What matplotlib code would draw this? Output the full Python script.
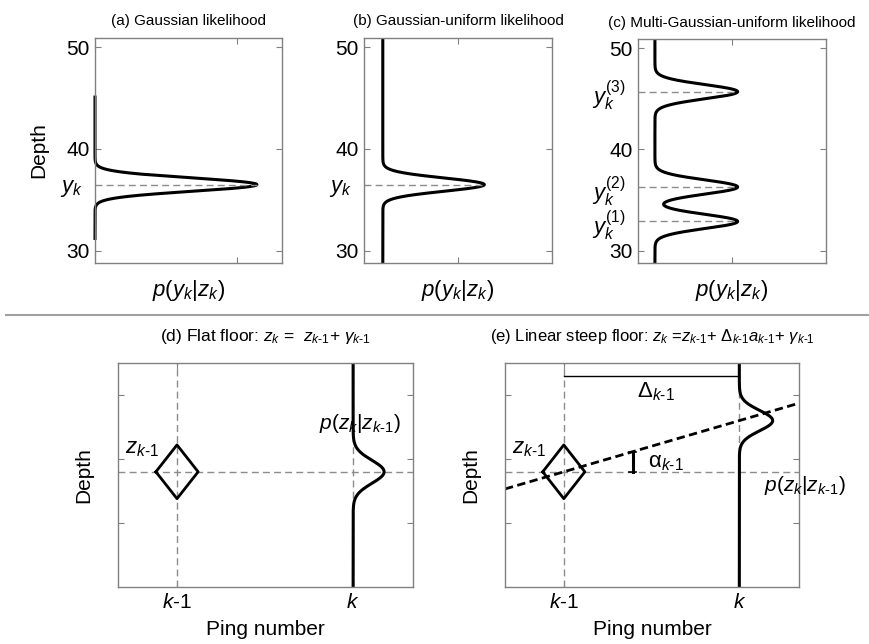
import matplotlib.pyplot as plt
import numpy as np

plt.rcParams['font.family'] = ['Liberation Sans', 'DejaVu Sans']
plt.rcParams['mathtext.fontset'] = 'custom'
plt.rcParams['mathtext.rm'] = 'Liberation Sans'
plt.rcParams['mathtext.it'] = 'Liberation Sans:italic'
plt.rcParams['mathtext.bf'] = 'Liberation Sans:bold'

GRAY = '#808080'
DASH_GRAY = '#8c8c8c'
KM1 = r'k\text{-}1'  # subscript "k-1" with a plain hyphen

# --- likelihood models (top row), depth in m ---
depth_lim = (28.8, 50.9)
depth_ticks = [30, 40, 50]
peak_a = 36.5
extent_a = [31.2, 45.1]
peak_b = 36.5
floor_b = 0.10
height_b = 0.54
peaks_c = [32.9, 36.3, 45.7]
labels_c = ['$y_k^{(1)}$', '$y_k^{(2)}$', '$y_k^{(3)}$']
floor_c = 0.09
height_c = 0.44
sigma_top = 0.65
sigma_c = 0.7

# --- transition models (bottom row) ---
ping_prev = 1.0
ping_cur = 2.0
ping_lim = (0.665, 2.34)
depth2_lim = (0.0, 3.5)
depth2_ticks = [1, 2, 3]
z_prev = 1.8
diamond_dx = 0.12
diamond_dz = 0.42
bump_amp_d = 0.176
bump_sigma_d = 0.18
slope = 0.8
bump_amp_e = 0.19
bump_sigma_e = 0.16
delta_level = 3.3
alpha_ping = 1.394

W, H = 869, 644
fig = plt.figure(figsize=(W / 100, H / 100), dpi=100)


def add_ax(left, top, right, bottom):
    return fig.add_axes([left / W, 1 - bottom / H, (right - left) / W, (bottom - top) / H])


def style(ax):
    for s in ax.spines.values():
        s.set_color(GRAY)
        s.set_linewidth(1.0)
    ax.tick_params(direction='in', length=4, color=GRAY, top=True, right=True,
                   labelsize=15, pad=4)


def gauss(x, mu, sig):
    return np.exp(-0.5 * ((x - mu) / sig) ** 2)


def top_panel(ax, title, xmax, xtick):
    style(ax)
    ax.set_ylim(*depth_lim)
    ax.set_xlim(0, xmax)
    ax.set_yticks(depth_ticks)
    ax.set_xticks([xtick])
    ax.set_xticklabels([])
    ax.set_title(title, fontsize=11, pad=9)
    ax.set_xlabel('$p(y_k|z_k)$', fontsize=16, labelpad=7)
    ax.tick_params(which='minor', length=0, labelsize=16, pad=9)


dz = np.linspace(depth_lim[0], depth_lim[1], 1200)

# (a) Gaussian likelihood
ax = add_ax(95, 38, 282, 263)
top_panel(ax, '(a) Gaussian likelihood', 1.155, 0.875)
za = dz[(dz >= extent_a[0]) & (dz <= extent_a[1])]
ax.plot(gauss(za, peak_a, sigma_top), za, color='black', lw=2.2, clip_on=False)
ax.plot([0, 1.0], [peak_a, peak_a], color=DASH_GRAY, lw=1, ls=(0, (5, 3)))
ax.set_yticks([peak_a], minor=True)
ax.set_yticklabels(['$y_k$'], minor=True)
ax.set_ylabel('Depth', fontsize=15, labelpad=8)

# (b) Gaussian-uniform likelihood
ax = add_ax(364, 38, 552, 263)
top_panel(ax, '(b) Gaussian-uniform likelihood', 1.0, 0.5)
ax.plot(floor_b + height_b * gauss(dz, peak_b, sigma_top), dz, color='black', lw=2.2)
ax.plot([0, floor_b + height_b], [peak_b, peak_b], color=DASH_GRAY, lw=1, ls=(0, (5, 3)))
ax.set_yticks([peak_b], minor=True)
ax.set_yticklabels(['$y_k$'], minor=True)

# (c) Multi-Gaussian-uniform likelihood
ax = add_ax(638, 39, 826, 263)
top_panel(ax, '(c) Multi-Gaussian-uniform likelihood', 1.0, 0.5)
mix = sum(gauss(dz, m, sigma_c) for m in peaks_c)
ax.plot(floor_c + height_c * mix, dz, color='black', lw=2.2)
for m in peaks_c:
    ax.plot([0, floor_c + height_c], [m, m], color=DASH_GRAY, lw=1, ls=(0, (5, 3)))
ax.set_yticks(peaks_c, minor=True)
ax.set_yticklabels(labels_c, minor=True)

# separator between the two rows
fig.add_artist(plt.Line2D([6 / W, 1], [1 - 315 / H, 1 - 315 / H], color='#a0a0a0', lw=1.5))


def bottom_panel(ax, title, title_size):
    style(ax)
    ax.set_xlim(*ping_lim)
    ax.set_ylim(*depth2_lim)
    ax.set_yticks(depth2_ticks)
    ax.set_yticklabels([])
    ax.set_xticks([ping_prev, ping_cur])
    ax.set_xticklabels(['$k$-1', '$k$'])
    ax.set_title(title, fontsize=title_size, pad=16)
    ax.set_xlabel('Ping number', fontsize=15, labelpad=6)
    ax.set_ylabel('Depth', fontsize=15, labelpad=14)
    # guide lines through the previous state
    ax.axvline(ping_prev, color=DASH_GRAY, lw=1, ls=(0, (5, 3)))
    ax.axhline(z_prev, color=DASH_GRAY, lw=1, ls=(0, (5, 3)))
    ax.axvline(ping_cur, color=DASH_GRAY, lw=1, ls=(0, (5, 3)))
    # previous state marker
    ax.plot([ping_prev - diamond_dx, ping_prev, ping_prev + diamond_dx, ping_prev, ping_prev - diamond_dx],
            [z_prev, z_prev + diamond_dz, z_prev, z_prev - diamond_dz, z_prev],
            color='black', lw=2)
    ax.text(ping_prev - 0.295, z_prev + 0.36, '$z_{%s}$' % KM1,
            fontsize=16, ha='left', va='center')


zz = np.linspace(depth2_lim[0], depth2_lim[1], 800)

# (d) flat floor
ax = add_ax(118, 363, 413, 587)
bottom_panel(ax, r'(d) Flat floor: $z_k$ =  $z_{%s}$+ $\gamma_{%s}$' % (KM1, KM1), 12.5)
ax.plot(ping_cur + bump_amp_d * gauss(zz, z_prev, bump_sigma_d), zz, color='black', lw=2.2)
ax.text(1.807, 2.56, '$p(z_k|z_{%s})$' % KM1, fontsize=15, ha='left', va='center')

# (e) linear steep floor
ax = add_ax(505, 363, 799, 587)
bottom_panel(ax, r'(e) Linear steep floor: $z_k$ =$z_{%s}$+ $\Delta_{%s}a_{%s}$+ $\gamma_{%s}$'
             % (KM1, KM1, KM1, KM1), 12)
z_next = z_prev + slope * (ping_cur - ping_prev)
ax.plot(ping_cur + bump_amp_e * gauss(zz, z_next, bump_sigma_e), zz, color='black', lw=2.2)
px = np.array(ping_lim)
ax.plot(px, z_prev + slope * (px - ping_prev), color='black', lw=2, ls=(0, (3, 1.6)))
ax.plot([ping_prev, ping_cur], [delta_level, delta_level], color='black', lw=1)
ax.text(1.415, 3.05, r'$\Delta_{%s}$' % KM1, fontsize=16, ha='left', va='center')
# slope angle marker
za_top = z_prev + slope * (alpha_ping - ping_prev)
ax.plot([alpha_ping, alpha_ping], [z_prev, za_top], color='black', lw=2.2)
for zc in (z_prev, za_top):
    ax.plot([alpha_ping - 0.02, alpha_ping + 0.02], [zc, zc], color='black', lw=1.2)
ax.text(1.477, 1.94, r'$\mathrm{\alpha}_{%s}$' % KM1, fontsize=16, ha='left', va='center')
ax.text(2.14, 1.59, '$p(z_k|z_{%s})$' % KM1, fontsize=15, ha='left', va='center')

fig.savefig('out.png', dpi=100)
